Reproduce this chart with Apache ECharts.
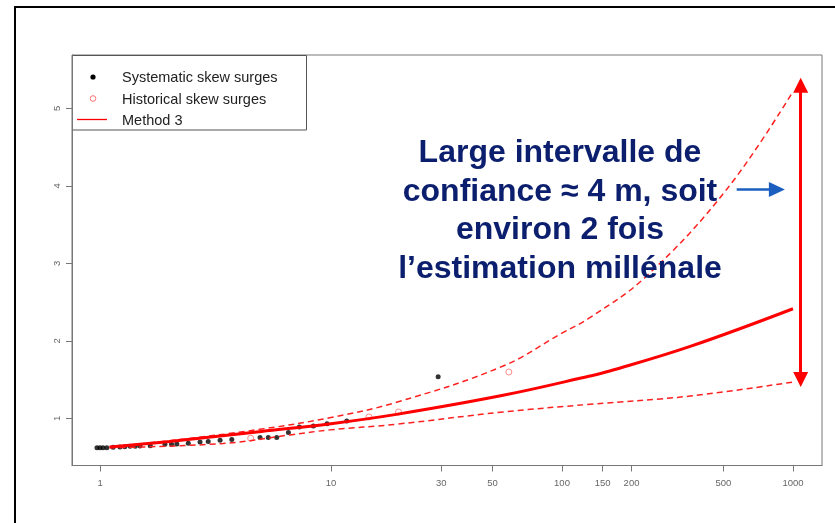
<!DOCTYPE html>
<html>
<head>
<meta charset="utf-8">
<script src="https://cdn.jsdelivr.net/npm/echarts@6/dist/echarts.min.js"></script>
<style>
  html, body { margin: 0; padding: 0; background: #ffffff; }
  #chart { width: 835px; height: 523px; }
</style>
</head>
<body>
<div id="chart"></div>
<script>
// Return-period axis (years) and level axis (m)
const returnPeriodTicks = [1, 10, 30, 50, 100, 150, 200, 500, 1000];
const levelTicks = [1, 2, 3, 4, 5];

// Systematic skew surges (return period, level)
const sysPeriod = [0.97, 1.0, 1.03, 1.07, 1.14, 1.22, 1.28, 1.35, 1.42, 1.49, 1.65, 1.91, 2.04, 2.15, 2.41, 2.71, 2.94, 3.31, 3.72, 4.93, 5.35, 5.82, 6.54, 7.29, 8.39, 9.61, 11.7, 29.1];
const sysSurge  = [0.62, 0.62, 0.62, 0.62, 0.625, 0.63, 0.632, 0.637, 0.64, 0.643, 0.645, 0.665, 0.665, 0.668, 0.678, 0.695, 0.70, 0.716, 0.725, 0.751, 0.751, 0.751, 0.815, 0.888, 0.90, 0.93, 0.965, 1.535];

// Historical skew surges
const histPeriod = [4.49, 14.6, 19.6, 58.9];
const histSurge  = [0.742, 1.017, 1.081, 1.597];

// Method 3 return-level curve
const method3Period = [1.1, 2, 5, 10, 19.2, 55.6, 132, 161, 359, 1000];
const method3Level  = [0.63, 0.70, 0.83, 0.93, 1.05, 1.296, 1.545, 1.61, 1.928, 2.414];

// Upper confidence bound
const upperPeriod = [1.1, 2, 5, 10, 19.2, 55.6, 100, 132, 232, 518, 1000];
const upperLevel  = [0.63, 0.71, 0.86, 1.01, 1.206, 1.674, 2.10, 2.298, 2.834, 3.96, 5.218];

// Lower confidence bound
const lowerPeriod = [1.1, 3.41, 6.65, 9.9, 19.2, 55.6, 132, 359, 1000];
const lowerLevel  = [0.62, 0.674, 0.785, 0.85, 0.923, 1.081, 1.18, 1.287, 1.468];

const zip = (xs, ys) => xs.map((x, i) => [x, ys[i]]);

const chart = echarts.init(document.getElementById('chart'), null, { renderer: 'canvas' });

const axisGrey = '#777777';
const labelGrey = '#666666';
const font = 'Liberation Sans';

const curveBase = {
  type: 'line',
  showSymbol: false,
  smooth: 0.4,
  silent: true
};

const option = {
  animation: false,
  backgroundColor: '#ffffff',
  grid: {
    left: 72, right: 13, top: 55, bottom: 57.5,
    show: true, borderColor: axisGrey, borderWidth: 1,
    containLabel: false
  },
  xAxis: {
    type: 'log',
    logBase: 10,
    min: 0.7563,
    max: 1335.6,
    axisLine: { show: true, lineStyle: { color: axisGrey, width: 1 } },
    axisTick: { show: true, length: 6, customValues: returnPeriodTicks, lineStyle: { color: axisGrey } },
    axisLabel: {
      show: true, customValues: returnPeriodTicks, color: labelGrey,
      fontSize: 9.5, fontFamily: font, margin: 13,
      formatter: v => String(Math.round(v))
    },
    splitLine: { show: false },
    minorTick: { show: false }
  },
  yAxis: {
    type: 'value',
    min: 0.39,
    max: 5.69,
    axisLine: { show: true, lineStyle: { color: axisGrey, width: 1 } },
    axisTick: { show: true, length: 6, customValues: levelTicks, lineStyle: { color: axisGrey } },
    axisLabel: {
      show: true, customValues: levelTicks, color: labelGrey,
      fontSize: 9.5, fontFamily: font, margin: 10, rotate: 90,
      formatter: v => String(Math.round(v))
    },
    splitLine: { show: false }
  },
  series: [
    {
      name: 'Systematic skew surges',
      type: 'scatter',
      data: zip(sysPeriod, sysSurge),
      symbol: 'circle',
      symbolSize: 5,
      itemStyle: { color: '#000000' },
      z: 2,
      silent: true
    },
    {
      name: 'Historical skew surges',
      type: 'scatter',
      data: zip(histPeriod, histSurge),
      symbol: 'circle',
      symbolSize: 6,
      itemStyle: { color: '#ffffff', borderColor: '#ff7070', borderWidth: 1 },
      z: 2,
      silent: true
    },
    Object.assign({}, curveBase, {
      name: 'Upper bound',
      data: zip(upperPeriod, upperLevel),
      lineStyle: { color: '#ff2020', width: 1.5, type: [6, 4] },
      z: 3
    }),
    Object.assign({}, curveBase, {
      name: 'Lower bound',
      data: zip(lowerPeriod, lowerLevel),
      lineStyle: { color: '#ff2020', width: 1.5, type: [6, 4] },
      z: 3
    }),
    Object.assign({}, curveBase, {
      name: 'Method 3',
      data: zip(method3Period, method3Level),
      lineStyle: { color: '#ff0000', width: 3 },
      z: 4,
      markLine: {
        silent: true,
        animation: false,
        label: { show: false },
        emphasis: { disabled: true },
        data: [
          [
            { coord: [1080, 5.30], symbol: 'triangle', symbolSize: [15, 15],
              lineStyle: { color: '#ff0000', width: 3, type: 'solid' } },
            { coord: [1080, 1.50], symbol: 'triangle', symbolSize: [15, 15] }
          ],
          [
            { coord: [570.6, 3.955], symbol: 'none',
              lineStyle: { color: '#1a5fbf', width: 2.5, type: 'solid' } },
            { coord: [852, 3.955], symbol: 'triangle', symbolSize: [15, 16] }
          ]
        ]
      }
    })
  ],
  graphic: [
    // outer slide frame
    {
      type: 'rect', silent: true, z: 100,
      shape: { x: 15, y: 7, width: 900, height: 600 },
      style: { fill: 'none', stroke: '#000000', lineWidth: 2 }
    },
    // legend box
    {
      type: 'group', silent: true, z: 50,
      children: [
        { type: 'rect', shape: { x: 72.5, y: 55.5, width: 234, height: 74.5 },
          style: { fill: '#ffffff', stroke: '#555555', lineWidth: 1 } },
        { type: 'circle', shape: { cx: 93, cy: 77, r: 2.6 }, style: { fill: '#000000' } },
        { type: 'circle', shape: { cx: 93, cy: 98.5, r: 2.8 }, style: { fill: 'none', stroke: '#ff7070', lineWidth: 1 } },
        { type: 'line', shape: { x1: 77, y1: 119.5, x2: 107, y2: 119.5 }, style: { stroke: '#ff0000', lineWidth: 1.3 } },
        { type: 'text', style: { x: 122, y: 78, text: 'Systematic skew surges', fill: '#222222', font: '14.5px "Liberation Sans"', verticalAlign: 'middle' } },
        { type: 'text', style: { x: 122, y: 99.5, text: 'Historical skew surges', fill: '#222222', font: '14.5px "Liberation Sans"', verticalAlign: 'middle' } },
        { type: 'text', style: { x: 122, y: 120.5, text: 'Method 3', fill: '#222222', font: '14.5px "Liberation Sans"', verticalAlign: 'middle' } }
      ]
    },
    // annotation
    {
      type: 'text', silent: true, z: 60,
      style: {
        x: 560, y: 134,
        text: 'Large intervalle de\nconfiance \u2248 4 m, soit\nenviron 2 fois\nl\u2019estimation mill\u00e9nale',
        fill: '#0b1f6e',
        font: 'bold 32px "Liberation Sans"',
        align: 'center', verticalAlign: 'top',
        lineHeight: 38.5
      }
    }
  ]
};

chart.setOption(option);
</script>
</body>
</html>
